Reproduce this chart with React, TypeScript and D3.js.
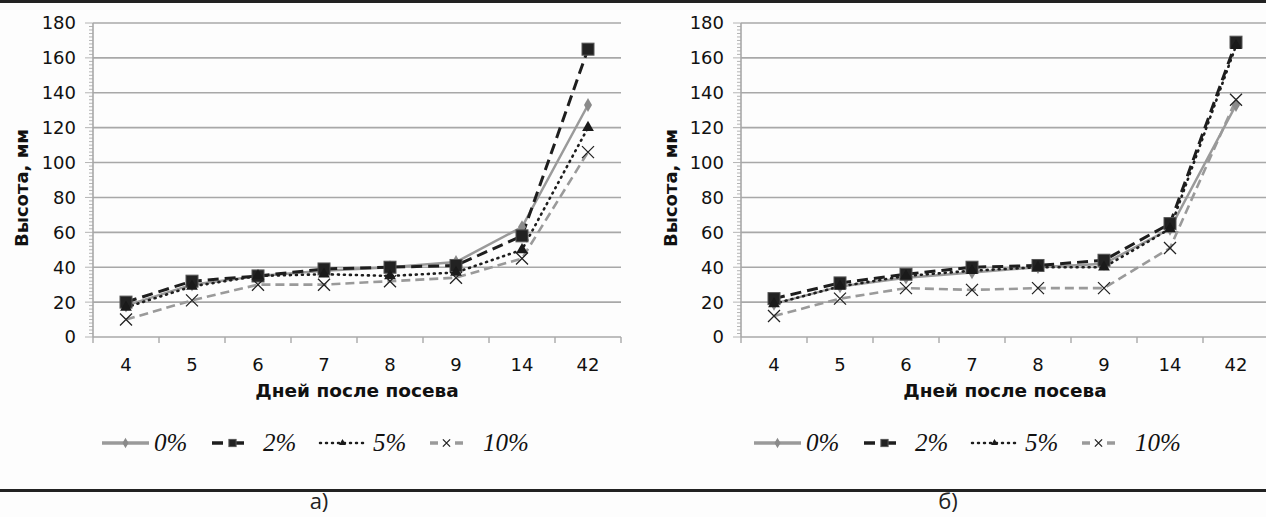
import React, { useEffect, useRef } from "react";
import * as d3 from "d3";

// дни после посева
const days = ["4", "5", "6", "7", "8", "9", "14", "42"];
const yTicks = [0, 20, 40, 60, 80, 100, 120, 140, 160, 180];
const seriesNames = ["0%", "2%", "5%", "10%"];

// панель а)
const heightA0 = [18, 30, 35, 38, 40, 43, 63, 133];
const heightA2 = [20, 32, 35, 39, 40, 41, 58, 165];
const heightA5 = [17, 29, 35, 36, 35, 37, 50, 120];
const heightA10 = [10, 21, 30, 30, 32, 34, 45, 106];

// панель б)
const heightB0 = [19, 29, 34, 37, 40, 42, 62, 133];
const heightB2 = [22, 31, 36, 40, 41, 44, 65, 169];
const heightB5 = [19, 29, 35, 38, 40, 40, 62, 167];
const heightB10 = [12, 22, 28, 27, 28, 28, 51, 136];

const GRAY = "#9a9a9a";
const DARK = "#1e1e1e";

const styles = [
  { color: GRAY, width: 2.5, dash: null as string | null, marker: "diamond" },
  { color: DARK, width: 3, dash: "11,6", marker: "square" },
  { color: DARK, width: 2.6, dash: "1,5", marker: "triangle" },
  { color: GRAY, width: 2.6, dash: "9,5", marker: "cross" },
];

const W = 1266;
const H = 517;

const App: React.FC = () => {
  const svgRef = useRef<SVGSVGElement | null>(null);

  useEffect(() => {
    if (svgRef.current) drawChart();
  }, []);

  // k — масштаб маркера (в легенде маркеры мельче)
  const drawMarker = (g: any, kind: string, x: number, y: number, k = 1) => {
    if (kind === "diamond") {
      g.append("path")
        .attr("d", d3.symbol(d3.symbolDiamond, 55 * k * k)())
        .attr("transform", `translate(${x},${y})`)
        .attr("fill", "#8a8a8a");
    } else if (kind === "square") {
      const s = 6 * k;
      g.append("rect")
        .attr("x", x - s)
        .attr("y", y - s)
        .attr("width", 2 * s)
        .attr("height", 2 * s)
        .attr("fill", "#222")
        .attr("stroke", "#555")
        .attr("stroke-width", 1);
    } else if (kind === "triangle") {
      g.append("path")
        .attr("d", d3.symbol(d3.symbolTriangle, 60 * k * k)())
        .attr("transform", `translate(${x},${y})`)
        .attr("fill", "#1a1a1a");
    } else {
      const s = 6 * k;
      g.append("path")
        .attr("d", `M${x - s},${y - s}L${x + s},${y + s}M${x - s},${y + s}L${x + s},${y - s}`)
        .attr("stroke", "#222")
        .attr("stroke-width", 1.3)
        .attr("fill", "none");
    }
  };

  const drawPanel = (root: any, left: number, right: number, data: number[][], axisTitleX: number) => {
    const top = 23;
    const bottom = 337;

    const x = d3.scaleBand<string>().domain(days).range([left, right]);
    const y = d3.scaleLinear().domain([0, 180]).range([bottom, top]);

    const g = root.append("g");

    // горизонтальная сетка
    g.selectAll(".grid")
      .data(yTicks.slice(1))
      .enter()
      .append("line")
      .attr("x1", left)
      .attr("x2", right)
      .attr("y1", (d: number) => y(d))
      .attr("y2", (d: number) => y(d))
      .attr("stroke", "#a8a8a8")
      .attr("stroke-width", 1.6);

    // мелкие деления оси Y
    g.selectAll(".minor")
      .data(d3.range(0, 181, 2))
      .enter()
      .append("line")
      .attr("x1", (d: number) => (d % 20 === 0 ? left - 8 : left - 4))
      .attr("x2", left)
      .attr("y1", (d: number) => y(d))
      .attr("y2", (d: number) => y(d))
      .attr("stroke", "#b4b4b4")
      .attr("stroke-width", 1);

    // ось Y
    g.append("line")
      .attr("x1", left)
      .attr("x2", left)
      .attr("y1", top)
      .attr("y2", bottom)
      .attr("stroke", "#a8a8a8")
      .attr("stroke-width", 1.6);

    // ось X
    g.append("line")
      .attr("x1", left)
      .attr("x2", right)
      .attr("y1", bottom)
      .attr("y2", bottom)
      .attr("stroke", "#a8a8a8")
      .attr("stroke-width", 1.6);

    const bounds = days.map((d) => x(d) as number).concat([right]);
    g.selectAll(".xtick")
      .data(bounds)
      .enter()
      .append("line")
      .attr("x1", (d: number) => d)
      .attr("x2", (d: number) => d)
      .attr("y1", bottom)
      .attr("y2", bottom + 6)
      .attr("stroke", "#a8a8a8")
      .attr("stroke-width", 1.4);

    // подписи осей
    g.selectAll(".ylab")
      .data(yTicks)
      .enter()
      .append("text")
      .attr("x", left - 17)
      .attr("y", (d: number) => y(d))
      .attr("dy", "0.36em")
      .attr("text-anchor", "end")
      .style("font-family", "DejaVu Sans, sans-serif")
      .style("font-size", "18px")
      .style("fill", "#111")
      .text((d: number) => d);

    g.selectAll(".xlab")
      .data(days)
      .enter()
      .append("text")
      .attr("x", (d: string) => (x(d) as number) + x.bandwidth() / 2)
      .attr("y", 371)
      .attr("text-anchor", "middle")
      .style("font-family", "DejaVu Sans, sans-serif")
      .style("font-size", "18px")
      .style("fill", "#111")
      .text((d: string) => d);

    g.append("text")
      .attr("x", left + (x.bandwidth() * 8) / 2)
      .attr("y", 397)
      .attr("text-anchor", "middle")
      .style("font-family", "DejaVu Sans, sans-serif")
      .style("font-size", "18.5px")
      .style("font-weight", "bold")
      .style("fill", "#111")
      .text("Дней после посева");

    g.append("text")
      .attr("transform", `translate(${axisTitleX},${(top + bottom) / 2 + 8}) rotate(-90)`)
      .attr("text-anchor", "middle")
      .style("font-family", "DejaVu Sans, sans-serif")
      .style("font-size", "18px")
      .style("font-weight", "bold")
      .style("fill", "#111")
      .text("Высота, мм");

    // линии серий
    const line = d3
      .line<number>()
      .x((_, i) => (x(days[i]) as number) + x.bandwidth() / 2)
      .y((d) => y(d));

    data.forEach((vals, si) => {
      const s = styles[si];
      g.append("path")
        .datum(vals)
        .attr("d", line)
        .attr("fill", "none")
        .attr("stroke", s.color)
        .attr("stroke-width", s.width)
        .attr("stroke-linecap", si === 2 ? "round" : "butt")
        .attr("stroke-dasharray", s.dash);
    });

    data.forEach((vals, si) => {
      vals.forEach((v, i) => {
        drawMarker(g, styles[si].marker, (x(days[i]) as number) + x.bandwidth() / 2, y(v));
      });
    });
  };

  const drawLegend = (root: any, startX: number) => {
    const ly = 443;
    // отрезки линий и подписи, смещения от начала легенды
    const segs = [
      [0, 47],
      [110, 151],
      [218, 263],
      [328, 361],
    ];
    const textX = [52, 161, 271, 381];
    seriesNames.forEach((name, i) => {
      const s = styles[i];
      const g = root.append("g");
      const [a, b] = segs[i];
      g.append("line")
        .attr("x1", startX + a)
        .attr("x2", startX + b)
        .attr("y1", ly)
        .attr("y2", ly)
        .attr("stroke", s.color)
        .attr("stroke-width", i === 2 ? 2.5 : 3.5)
        .attr("stroke-linecap", i === 2 ? "round" : "butt")
        .attr("stroke-dasharray", i === 0 ? null : i === 2 ? "1,5" : i === 1 ? "11,10" : "8,17");
      drawMarker(g, s.marker, startX + (a + b) / 2, ly, i === 0 ? 0.75 : 0.6);
      g.append("text")
        .attr("x", startX + textX[i])
        .attr("y", ly + 8)
        .style("font-family", "Liberation Serif, serif")
        .style("font-style", "italic")
        .style("font-size", "25px")
        .style("fill", "#111")
        .text(name);
    });
  };

  const drawChart = () => {
    const svg = d3.select(svgRef.current).attr("width", W).attr("height", H);
    svg.selectAll("*").remove();

    svg.append("rect").attr("width", W).attr("height", H).attr("fill", "#fdfdfd");

    // рамки сверху и снизу
    svg.append("rect").attr("x", 0).attr("y", 0).attr("width", W).attr("height", 3).attr("fill", "#222");
    svg.append("rect").attr("x", 0).attr("y", 489).attr("width", W).attr("height", 3).attr("fill", "#222");

    drawPanel(svg, 93, 621, [heightA0, heightA2, heightA5, heightA10], 28);
    drawPanel(svg, 741, 1269, [heightB0, heightB2, heightB5, heightB10], 677);

    drawLegend(svg, 102);
    drawLegend(svg, 754);

    svg
      .append("text")
      .attr("x", 319)
      .attr("y", 509)
      .attr("text-anchor", "middle")
      .style("font-family", "Open Sans, sans-serif")
      .style("font-size", "22px")
      .style("fill", "#222")
      .text("а)");

    svg
      .append("text")
      .attr("x", 948)
      .attr("y", 509)
      .attr("text-anchor", "middle")
      .style("font-family", "Open Sans, sans-serif")
      .style("font-size", "22px")
      .style("fill", "#222")
      .text("б)");
  };

  return (
    <div style={{ position: "absolute", left: 0, top: 0 }}>
      <svg ref={svgRef}></svg>
    </div>
  );
};

export default App;
